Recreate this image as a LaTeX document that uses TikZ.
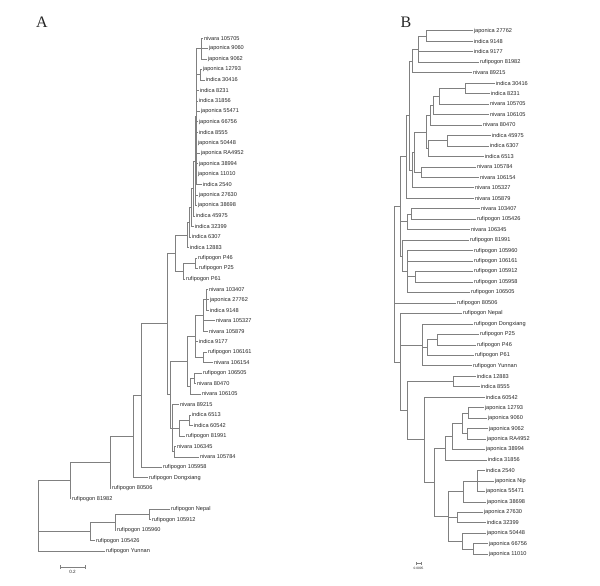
\documentclass[tikz,border=0pt]{standalone}
\usepackage{fontspec}
\setmainfont{Liberation Sans}
\newfontfamily\labserif{Liberation Serif}
\usetikzlibrary{calc}
\tikzset{
 branch/.style={draw=black!50, line width=0.6pt},
 leaf/.style={anchor=west, inner xsep=1.5pt, inner ysep=0.5pt, outer sep=0pt, font=\fontsize{5.6}{6}\selectfont, text=black!85},
 panel/.style={font=\labserif\fontsize{16}{16}\selectfont, text=black!85, inner sep=0pt},
 scalelabA/.style={font=\fontsize{4.6}{5}\selectfont, text=black!85, inner sep=0pt},
 scalelabB/.style={font=\fontsize{3.2}{4}\selectfont, text=black!85, inner sep=0pt},
}
\newcommand\lfA[4]{\node[leaf] (#1) at ({#2-1.5},{38+(#3-1)*10.47}) {#4};}
\newcommand\lfB[4]{\node[leaf] (#1) at ({#2-1.5},{30.7+(#3-1)*10.47}) {#4};}
\newcommand\innode[5]{%
  \path ($(#3)!0.5!(#4)$) coordinate (#1-m);
  \coordinate (#1) at (#2,0 |- #1-m);
  \foreach \c in {#5} {\draw[branch] (#1) |- (\c);}
}
\begin{document}
\begin{tikzpicture}[x=1pt,y=-1pt]
\useasboundingbox (0,0) rectangle (600,586);
\fill[white] (0,0) rectangle (600,586);
\node[panel] (lA) at (42,22) {A};
\node[panel] (lB) at (406,22) {B};
% ---------------- Tree A leaves
\lfA{a1}{204}{1}{nivara 105705}
\lfA{a2}{209}{2}{japonica 9060}
\lfA{a3}{208}{3}{japonica 9062}
\lfA{a4}{203}{4}{japonica 12793}
\lfA{a5}{206}{5}{indica 30416}
\lfA{a6}{200}{6}{indica 8231}
\lfA{a7}{199}{7}{indica 31856}
\lfA{a8}{201}{8}{japonica 55471}
\lfA{a9}{199}{9}{japonica 66756}
\lfA{a10}{199}{10}{indica 8555}
\lfA{a11}{198}{11}{japonica 50448}
\lfA{a12}{201}{12}{japonica RA4952}
\lfA{a13}{199}{13}{japonica 38994}
\lfA{a14}{198}{14}{japonica 11010}
\lfA{a15}{203}{15}{indica 2540}
\lfA{a16}{199}{16}{japonica 27630}
\lfA{a17}{198}{17}{japonica 38698}
\lfA{a18}{196}{18}{indica 45975}
\lfA{a19}{195}{19}{indica 32399}
\lfA{a20}{192}{20}{indica 6307}
\lfA{a21}{190}{21}{indica 12883}
\lfA{a22}{198}{22}{rufipogon P46}
\lfA{a23}{199}{23}{rufipogon P25}
\lfA{a24}{186}{24}{rufipogon P61}
\lfA{a25}{209}{25}{nivara 103407}
\lfA{a26}{210}{26}{japonica 27762}
\lfA{a27}{210}{27}{indica 9148}
\lfA{a28}{216}{28}{nivara 105327}
\lfA{a29}{209}{29}{nivara 105879}
\lfA{a30}{199}{30}{indica 9177}
\lfA{a31}{208}{31}{rufipogon 106161}
\lfA{a32}{214}{32}{nivara 106154}
\lfA{a33}{203}{33}{rufipogon 106505}
\lfA{a34}{197}{34}{nivara 80470}
\lfA{a35}{202}{35}{nivara 106105}
\lfA{a36}{180}{36}{nivara 89215}
\lfA{a37}{192}{37}{indica 6513}
\lfA{a38}{194}{38}{indica 60542}
\lfA{a39}{186}{39}{rufipogon 81991}
\lfA{a40}{177}{40}{nivara 106345}
\lfA{a41}{200}{41}{nivara 105784}
\lfA{a42}{163}{42}{rufipogon 105958}
\lfA{a43}{149}{43}{rufipogon Dongxiang}
\lfA{a44}{112}{44}{rufipogon 80506}
\lfA{a45}{72}{45}{rufipogon 81982}
\lfA{a46}{171}{46}{rufipogon Nepal}
\lfA{a47}{152}{47}{rufipogon 105912}
\lfA{a48}{117}{48}{rufipogon 105960}
\lfA{a49}{96}{49}{rufipogon 105426}
\lfA{a50}{106}{50}{rufipogon Yunnan}
% ---------------- Tree A internal
\innode{c7}{201.5}{a1}{a3}{a1,a2,a3}
\innode{c8}{200.5}{a4}{a5}{a4,a5}
\innode{c6}{196.5}{c7}{a15}{c7,c8,a6,a7,a8,a9,a10,a11,a12,a13,a14,a15}
\innode{c5}{195}{c6}{a17}{c6,a16,a17}
\innode{c4}{193.5}{c5}{a18}{c5,a18}
\innode{c3}{191.5}{c4}{a19}{c4,a19}
\innode{c2}{189.5}{c3}{a20}{c3,a20}
\innode{c1}{187}{c2}{a21}{c2,a21}
\innode{p2}{195}{a22}{a23}{a22,a23}
\innode{p1}{183}{p2}{a24}{p2,a24}
\innode{cp}{175}{c1}{p1}{c1,p1}
\innode{m1}{206.5}{a25}{a27}{a25,a26,a27}
\innode{m2}{203}{m1}{a29}{m1,a28,a29}
\innode{m4}{203}{a31}{a32}{a31,a32}
\innode{m3}{195}{m2}{m4}{m2,a30,m4}
\innode{m6a}{194}{a33}{a34}{a33,a34}
\innode{m6}{190}{m6a}{a35}{m6a,a35}
\innode{m5}{187}{m3}{m6}{m3,m6}
\innode{m8a}{189}{a37}{a38}{a37,a38}
\innode{m8}{179}{m8a}{a39}{m8a,a39}
\innode{m9}{174.5}{a40}{a41}{a40,a41}
\innode{m11}{172.5}{a36}{m9}{a36,m8,m9}
\innode{m10}{170}{m5}{m11}{m5,m11}
\innode{tp}{167}{cp}{m10}{cp,m10}
\innode{dd}{141}{tp}{a42}{tp,a42}
\innode{cc}{133}{dd}{a43}{dd,a43}
\innode{bb}{110}{cc}{a44}{cc,a44}
\innode{aa}{70}{bb}{a45}{bb,a45}
\innode{gg}{149}{a46}{a47}{a46,a47}
\innode{ff}{115}{gg}{a48}{gg,a48}
\innode{ee}{90}{ff}{a49}{ff,a49}
\innode{rA}{38}{aa}{a50}{aa,ee,a50}
% scale bar A
\coordinate (sa1) at (60,567);
\coordinate (sa2) at (85,567);
\draw[branch] (sa1) -- (sa2);
\draw[branch] (sa1) ++(0,-1.8) -- ++(0,3.6);
\draw[branch] (sa2) ++(0,-1.8) -- ++(0,3.6);
\node[scalelabA] (sla) at (72.5,572) {0.2};
% ---------------- Tree B leaves
\lfB{b1}{474}{1}{japonica 27762}
\lfB{b2}{474}{2}{indica 9148}
\lfB{b3}{474}{3}{indica 9177}
\lfB{b4}{480}{4}{rufipogon 81982}
\lfB{b5}{473}{5}{nivara 89215}
\lfB{b6}{496}{6}{indica 30416}
\lfB{b7}{491}{7}{indica 8231}
\lfB{b8}{490}{8}{nivara 105705}
\lfB{b9}{490}{9}{nivara 106105}
\lfB{b10}{483}{10}{nivara 80470}
\lfB{b11}{492}{11}{indica 45975}
\lfB{b12}{490}{12}{indica 6307}
\lfB{b13}{485}{13}{indica 6513}
\lfB{b14}{477}{14}{nivara 105784}
\lfB{b15}{480}{15}{nivara 106154}
\lfB{b16}{475}{16}{nivara 105327}
\lfB{b17}{475}{17}{nivara 105879}
\lfB{b18}{481}{18}{nivara 103407}
\lfB{b19}{477}{19}{rufipogon 105426}
\lfB{b20}{471}{20}{nivara 106345}
\lfB{b21}{470}{21}{rufipogon 81991}
\lfB{b22}{474}{22}{rufipogon 105960}
\lfB{b23}{474}{23}{rufipogon 106161}
\lfB{b24}{474}{24}{rufipogon 105912}
\lfB{b25}{474}{25}{rufipogon 105958}
\lfB{b26}{471}{26}{rufipogon 106505}
\lfB{b27}{457}{27}{rufipogon 80506}
\lfB{b28}{463}{28}{rufipogon Nepal}
\lfB{b29}{474}{29}{rufipogon Dongxiang}
\lfB{b30}{480}{30}{rufipogon P25}
\lfB{b31}{477}{31}{rufipogon P46}
\lfB{b32}{475}{32}{rufipogon P61}
\lfB{b33}{473}{33}{rufipogon Yunnan}
\lfB{b34}{477}{34}{indica 12883}
\lfB{b35}{481}{35}{indica 8555}
\lfB{b36}{486}{36}{indica 60542}
\lfB{b37}{485}{37}{japonica 12793}
\lfB{b38}{488}{38}{japonica 9060}
\lfB{b39}{489}{39}{japonica 9062}
\lfB{b40}{487}{40}{japonica RA4952}
\lfB{b41}{486}{41}{japonica 38994}
\lfB{b42}{488}{42}{indica 31856}
\lfB{b43}{486}{43}{indica 2540}
\lfB{b44}{495}{44}{japonica Nip}
\lfB{b45}{486}{45}{japonica 55471}
\lfB{b46}{487}{46}{japonica 38698}
\lfB{b47}{484}{47}{japonica 27630}
\lfB{b48}{487}{48}{indica 32399}
\lfB{b49}{487}{49}{japonica 50448}
\lfB{b50}{489}{50}{japonica 66756}
\lfB{b51}{489}{51}{japonica 11010}
% ---------------- Tree B internal
\innode{n1}{426}{b1}{b2}{b1,b2}
\innode{n2}{418}{n1}{b4}{n1,b3,b4}
\innode{n3}{412}{n2}{b5}{n2,b5}
\innode{n4}{465}{b6}{b7}{b6,b7}
\innode{n5}{439}{n4}{b8}{n4,b8}
\innode{n6}{433.5}{n5}{b9}{n5,b9}
\innode{n7}{430.5}{n6}{b10}{n6,b10}
\innode{n8}{447}{b11}{b12}{b11,b12}
\innode{n9}{428.5}{n8}{b13}{n8,b13}
\innode{n10}{426}{n7}{n9}{n7,n9}
\innode{n11}{421}{b14}{b15}{b14,b15}
\innode{n12}{414.5}{n10}{n11}{n10,n11}
\innode{n13}{412.5}{n12}{b16}{n12,b16}
\innode{n15}{409}{n3}{n13}{n3,n13}
\innode{n14}{406}{n15}{b17}{n15,b17}
\innode{n17}{411}{b18}{b19}{b18,b19}
\innode{n18}{407}{n17}{b20}{n17,b20}
\innode{n19}{415}{b24}{b25}{b24,b25}
\innode{n20}{407}{b22}{b26}{b22,b23,n19,b26}
\innode{n21}{402.5}{b21}{n20}{b21,n20}
\innode{n22}{400}{n14}{n21}{n14,n18,n21}
\innode{n24}{437}{b30}{b31}{b30,b31}
\innode{n25}{427}{n24}{b32}{n24,b32}
\innode{n26}{422}{b29}{b33}{b29,n25,b33}
\innode{n28}{453}{b34}{b35}{b34,b35}
\innode{n29}{468}{b37}{b38}{b37,b38}
\innode{n30a}{467}{b39}{b40}{b39,b40}
\innode{n30}{462}{n29}{n30a}{n29,n30a}
\innode{n31}{452}{n30}{b41}{n30,b41}
\innode{n32}{445}{n31}{b42}{n31,b42}
\innode{n33}{477}{b43}{b45}{b43,b44,b45}
\innode{n34}{463}{n33}{b46}{n33,b46}
\innode{n35}{457}{b47}{b48}{b47,b48}
\innode{n37}{473}{b50}{b51}{b50,b51}
\innode{n38}{462}{b49}{n37}{b49,n37}
\innode{n36}{448}{n34}{n38}{n34,n35,n38}
\innode{n40}{434}{n32}{n36}{n32,n36}
\innode{n41}{424}{b36}{n40}{b36,n40}
\innode{n42}{407}{n28}{n41}{n28,n41}
\innode{n43}{400}{b28}{n42}{b28,n26,n42}
\innode{rB}{394}{n22}{n43}{n22,b27,n43}
% scale bar B
\coordinate (sb1) at (416,563.3);
\coordinate (sb2) at (421,563.3);
\draw[branch] (sb1) -- (sb2);
\draw[branch] (sb1) ++(0,-1.5) -- ++(0,3);
\draw[branch] (sb2) ++(0,-1.5) -- ++(0,3);
\node[scalelabB] (slb) at (418.5,568) {0.0005};
\end{tikzpicture}
\end{document}
